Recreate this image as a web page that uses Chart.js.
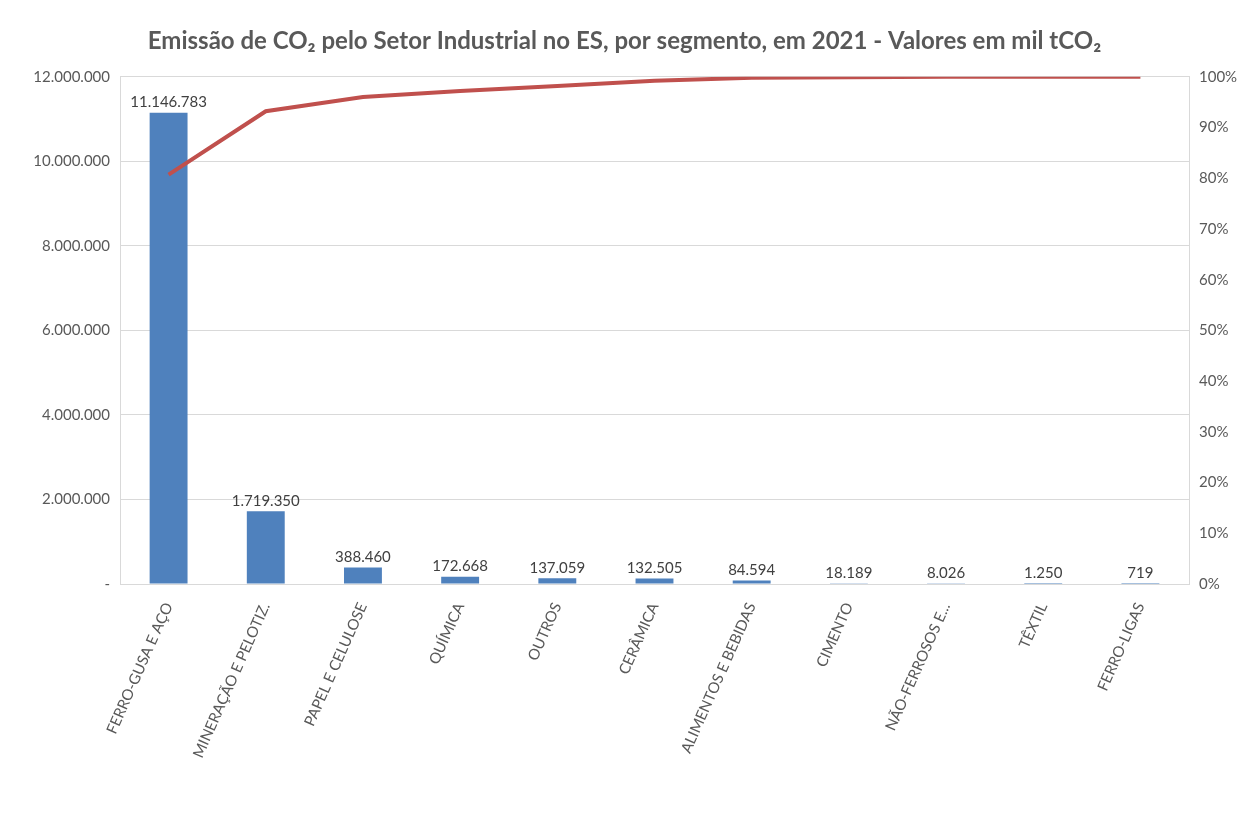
<!DOCTYPE html>
<html>
<head>
<meta charset="utf-8">
<script src="https://cdn.jsdelivr.net/npm/chart.js@4.4.1/dist/chart.umd.min.js"></script>
<style>
  html, body { margin: 0; padding: 0; background: #fff; }
  #wrap { width: 1249px; height: 834px; }
</style>
</head>
<body>
<div id="wrap"><canvas id="chart"></canvas></div>
<script>
// segmentos industriais
const categories = [
  'FERRO-GUSA E AÇO', 'MINERAÇÃO E PELOTIZ.', 'PAPEL E CELULOSE', 'QUÍMICA',
  'OUTROS', 'CERÂMICA', 'ALIMENTOS E BEBIDAS', 'CIMENTO', 'NÃO-FERROSOS E...',
  'TÊXTIL', 'FERRO-LIGAS'
];
// emissões (mil tCO2)
const emissions = [11146783, 1719350, 388460, 172668, 137059, 132505, 84594, 18189, 8026, 1250, 719];
const cumulativePct = [80.7, 93.2, 96.0, 97.2, 98.2, 99.2, 99.8, 99.9, 99.99, 99.99, 100];

const leftTicks = [0, 2000000, 4000000, 6000000, 8000000, 10000000, 12000000];
const rightTicks = [0, 10, 20, 30, 40, 50, 60, 70, 80, 90, 100];

const fmt = (v) => String(Math.round(v)).replace(/\B(?=(\d{3})+(?!\d))/g, '.');

const FONT = 'Lato, "Open Sans", sans-serif';
const GRAY = '#595959';
const GRID = '#d9d9d9';

const barLabels = {
  id: 'barLabels',
  afterDatasetsDraw(chart) {
    const meta = chart.getDatasetMeta(1);
    const ctx = chart.ctx;
    ctx.save();
    ctx.font = '15px ' + FONT;
    ctx.fillStyle = '#404040';
    ctx.textAlign = 'center';
    ctx.textBaseline = 'bottom';
    meta.data.forEach((bar, i) => {
      ctx.fillText(fmt(emissions[i]), bar.x, bar.y - 3);
    });
    ctx.restore();
  }
};

new Chart(document.getElementById('chart'), {
  data: {
    labels: categories,
    datasets: [
      {
        type: 'line',
        data: cumulativePct,
        yAxisID: 'y2',
        borderColor: '#C0504D',
        borderWidth: 4,
        pointRadius: 0,
        tension: 0,
        order: 0
      },
      {
        type: 'bar',
        data: emissions,
        yAxisID: 'y',
        backgroundColor: '#4F81BD',
        categoryPercentage: 1,
        barPercentage: 0.39,
        order: 1
      }
    ]
  },
  options: {
    responsive: true,
    maintainAspectRatio: false,
    animation: false,
    layout: { padding: { left: 0, right: 0, top: 0, bottom: 0 } },
    plugins: {
      legend: { display: false },
      tooltip: { enabled: false },
      title: {
        display: true,
        text: 'Emissão de CO₂ pelo Setor Industrial no ES, por segmento, em 2021 - Valores em mil tCO₂',
        color: GRAY,
        font: { family: FONT, size: 24, weight: 'bold' },
        padding: { top: 27, bottom: 21 }
      }
    },
    scales: {
      x: {
        grid: { display: false, drawTicks: false },
        border: { display: true, color: GRID },
        ticks: {
          color: GRAY,
          font: { family: FONT, size: 15 },
          minRotation: 66,
          maxRotation: 66,
          autoSkip: false,
          padding: 16
        },
        afterFit(scale) { scale.height = 250; }
      },
      y: {
        position: 'left',
        min: 0,
        max: 12000000,
        afterBuildTicks(scale) { scale.ticks = leftTicks.map(v => ({ value: v })); },
        grid: { color: GRID, drawTicks: false },
        border: { display: true, color: GRID },
        ticks: {
          color: GRAY,
          font: { family: FONT, size: 15 },
          padding: 10,
          callback: (v) => v === 0 ? '-' : fmt(v)
        },
        afterFit(scale) { scale.width = 120; }
      },
      y2: {
        position: 'right',
        min: 0,
        max: 100,
        afterBuildTicks(scale) { scale.ticks = rightTicks.map(v => ({ value: v })); },
        grid: { display: false, drawTicks: false },
        border: { display: true, color: GRID },
        ticks: {
          color: GRAY,
          font: { family: FONT, size: 15 },
          padding: 10,
          callback: (v) => v + '%'
        },
        afterFit(scale) { scale.width = 60; }
      }
    }
  },
  plugins: [barLabels]
});
</script>
</body>
</html>
